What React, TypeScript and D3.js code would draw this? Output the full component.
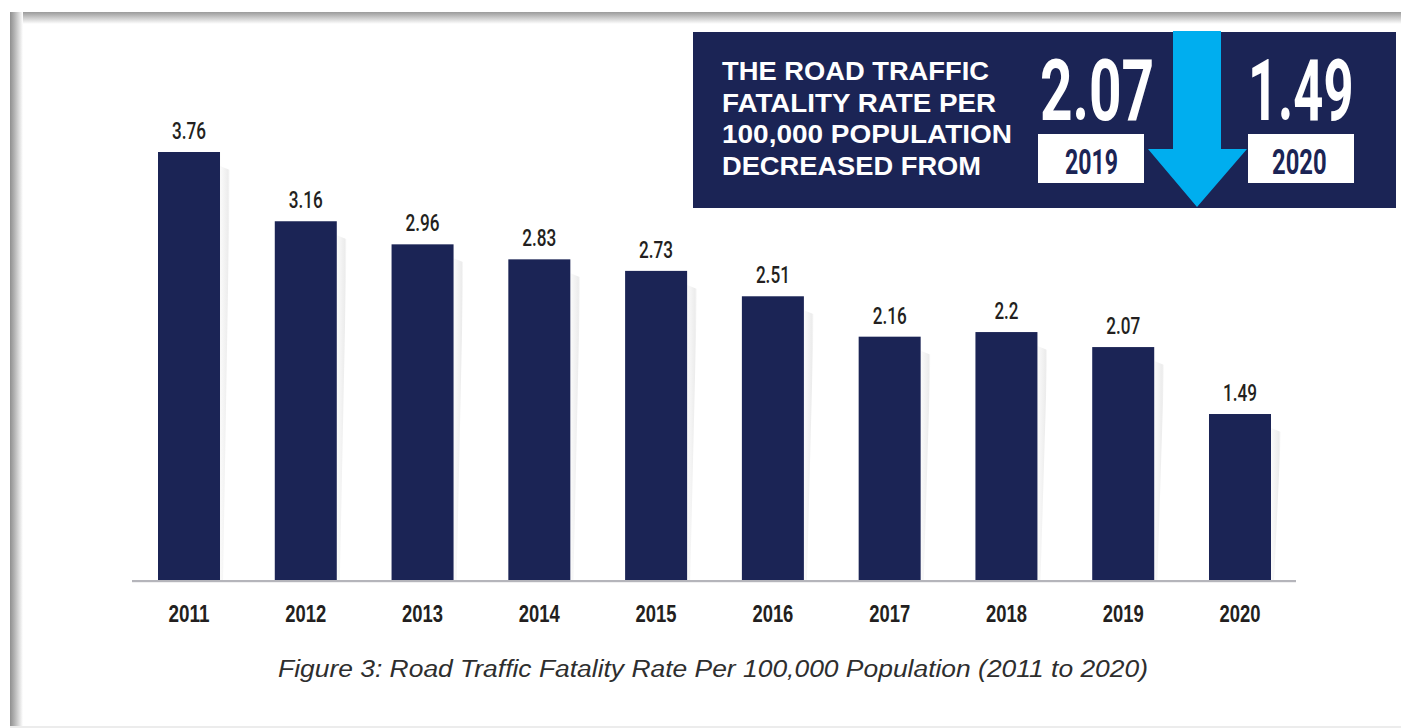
import * as d3 from "d3";

const W = 1401;
const H = 728;

const years = ["2011", "2012", "2013", "2014", "2015", "2016", "2017", "2018", "2019", "2020"];
const rates = [3.76, 3.16, 2.96, 2.83, 2.73, 2.51, 2.16, 2.2, 2.07, 1.49];
const calloutLines = ["THE ROAD TRAFFIC", "FATALITY RATE PER", "100,000 POPULATION", "DECREASED FROM"];
const caption = "Figure 3: Road Traffic Fatality Rate Per 100,000 Population (2011 to 2020)";

const navy = "#1b2455";
const ink = "#231f20";
const arrowBlue = "#00aeef";
const baseY = 581;

const x = d3.scaleBand<string>().domain(years).range([158, 1271]).paddingInner(0.469).paddingOuter(0);
const y = d3.scaleLinear().domain([0, 3.76]).range([586, 152]);
const fmt = (v: number) => String(v);
// rough width of a condensed label: digits ~10px, dot ~4px
const labelWidth = (s: string) => s.split("").reduce((w, c) => w + (c === "." ? 4 : 10), 0);

// callout compares the last two years
const fromIdx = years.length - 2;
const toIdx = years.length - 1;

const condensed = "Roboto, 'DejaVu Sans', sans-serif";
const arial = "'Liberation Sans', Arial, sans-serif";

const App = () => {
  const bw = x.bandwidth();
  const arrow = d3.path();
  arrow.moveTo(1173, 31);
  arrow.lineTo(1221, 31);
  arrow.lineTo(1221, 149);
  arrow.lineTo(1247, 149);
  arrow.lineTo(1197, 207);
  arrow.lineTo(1148, 149);
  arrow.lineTo(1173, 149);
  arrow.closePath();

  return (
    <svg width={W} height={H} style={{ position: "absolute", left: 0, top: 0, background: "#fff" }}>
      <defs>
        <linearGradient id="topShade" x1="0" y1="0" x2="0" y2="1">
          <stop offset="0" stopColor="#9b9b9b" />
          <stop offset="0.3" stopColor="#b9b9b9" />
          <stop offset="1" stopColor="#ffffff" />
        </linearGradient>
        <linearGradient id="leftShade" x1="0" y1="0" x2="1" y2="0">
          <stop offset="0" stopColor="#8f8f8f" />
          <stop offset="0.35" stopColor="#b4b4b4" />
          <stop offset="1" stopColor="#ffffff" />
        </linearGradient>
        <linearGradient id="barShade" x1="0" y1="0" x2="1" y2="0">
          <stop offset="0" stopColor="#fbfbfb" />
          <stop offset="0.8" stopColor="#ececec" />
          <stop offset="1" stopColor="#ffffff" />
        </linearGradient>
      </defs>

      {/* page frame shadow */}
      <rect x={10} y={12} width={W - 10} height={12} fill="url(#topShade)" />
      <rect x={10} y={12} width={13} height={H - 12} fill="url(#leftShade)" />
      <rect x={10} y={H - 2} width={W - 10} height={2} fill="#ececec" />

      {/* bar side shading */}
      {rates.map((v, i) => {
        const x1 = (x(years[i]) as number) + bw;
        const top = y(v);
        return (
          <polygon
            key={"s" + i}
            points={`${x1},${top + 14} ${x1 + 10},${top + 18} ${x1 + 3},${baseY} ${x1},${baseY}`}
            fill="url(#barShade)"
          />
        );
      })}

      {/* bars */}
      {rates.map((v, i) => (
        <rect key={"b" + i} x={x(years[i])} y={y(v)} width={bw} height={baseY - y(v)} fill={navy} />
      ))}

      {/* value labels */}
      {rates.map((v, i) => (
        <text
          key={"v" + i}
          x={(x(years[i]) as number) + bw / 2}
          y={y(v) - 13}
          textAnchor="middle"
          fontFamily={condensed}
          fontWeight={500}
          fontSize={24}
          fill={ink}
          textLength={labelWidth(fmt(v))}
          lengthAdjust="spacingAndGlyphs"
        >
          {fmt(v)}
        </text>
      ))}

      {/* baseline */}
      <rect x={132} y={baseY - 1} width={1164} height={2.2} fill="#b5b5bb" />

      {/* year labels */}
      {years.map((yr) => (
        <text
          key={yr}
          x={(x(yr) as number) + bw / 2 - 20.5}
          y={621.5}
          fontFamily={arial}
          fontWeight="bold"
          fontSize={23}
          fill={ink}
          textLength={41}
          lengthAdjust="spacingAndGlyphs"
        >
          {yr}
        </text>
      ))}

      {/* caption */}
      <text
        x={278}
        y={677}
        fontFamily={arial}
        fontStyle="italic"
        fontSize={23}
        fill="#2e2e2e"
        textLength={870}
        lengthAdjust="spacingAndGlyphs"
      >
        {caption}
      </text>

      {/* callout box */}
      <rect x={693} y={32} width={703} height={176} fill={navy} />
      {calloutLines.map((t, i) => (
        <text
          key={t}
          x={722}
          y={80 + i * 31.7}
          fontFamily={arial}
          fontWeight="bold"
          fontSize={25.5}
          fill="#fff"
          textLength={[267, 274, 290, 259][i]}
          lengthAdjust="spacingAndGlyphs"
        >
          {t}
        </text>
      ))}

      <text transform="translate(1040,119.5) scale(0.66,1)" fontFamily={condensed} fontWeight="bold"
        fontSize={86} fill="#fff">
        {fmt(rates[fromIdx])}
      </text>
      <text transform="translate(1248,119.5) scale(0.61,1)" fontFamily={condensed} fontWeight="bold"
        fontSize={86} fill="#fff">
        {fmt(rates[toIdx])}
      </text>

      <rect x={1038} y={134} width={106} height={49} fill="#fff" />
      <rect x={1248} y={134} width={106} height={49} fill="#fff" />
      <text transform="translate(1065,174) scale(0.66,1)" fontFamily={condensed} fontWeight="bold"
        fontSize={35} fill={navy}>
        {years[fromIdx]}
      </text>
      <text transform="translate(1272,174) scale(0.68,1)" fontFamily={condensed} fontWeight="bold"
        fontSize={35} fill={navy}>
        {years[toIdx]}
      </text>

      <path d={arrow.toString()} fill={arrowBlue} />
    </svg>
  );
};

export default App;
